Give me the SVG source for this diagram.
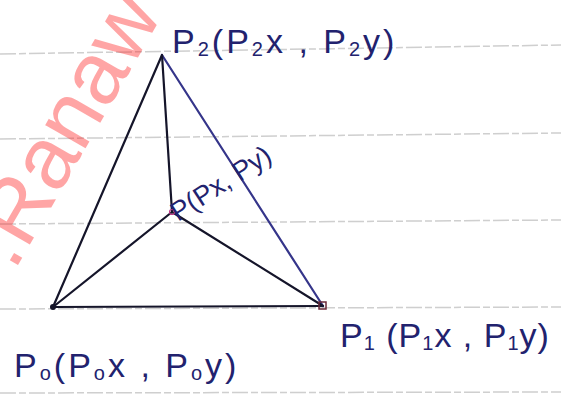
<svg xmlns="http://www.w3.org/2000/svg" width="561" height="395" viewBox="0 0 561 395">
<style>
.rule{stroke:#a0a0a0;stroke-width:1.5;stroke-dasharray:16 3 7 3;opacity:0.5}
.edge{stroke:#15152a;stroke-width:2.2;fill:none;stroke-linecap:round}
.blue{stroke:#35358a}
.lbl{font-family:"Liberation Sans",Arial,sans-serif;font-size:34px;fill:#22226e;letter-spacing:1px}
.sub{font-size:20px}
.wm{font-family:"Liberation Sans",Arial,sans-serif;font-size:88px;fill:#ff2020;opacity:0.4}
</style>
<rect width="561" height="395" fill="#ffffff"/>
<g id="ruled">
<line class="rule" x1="0" y1="54" x2="561" y2="45"/>
<line class="rule" x1="0" y1="139" x2="561" y2="133"/>
<line class="rule" x1="0" y1="224" x2="561" y2="220"/>
<line class="rule" x1="0" y1="309" x2="561" y2="307"/>
<line class="rule" x1="0" y1="393" x2="561" y2="392"/>
</g>
<text class="wm" transform="translate(14,272) rotate(-60)">.Ranaw</text>
<g id="connectors">
<line class="edge" x1="53" y1="307" x2="162" y2="55"/>
<line class="edge" x1="53" y1="307" x2="323" y2="306"/>
<line class="edge blue" x1="162" y1="55" x2="323" y2="306"/>
<line class="edge" x1="162" y1="55" x2="172" y2="212"/>
<line class="edge" x1="53" y1="307" x2="172" y2="212"/>
<line class="edge" x1="172" y1="212" x2="323" y2="306"/>
</g>
<g id="P0">
<circle cx="53" cy="307" r="3" fill="#15152a"/>
<text class="lbl" x="14" y="377" style="letter-spacing:3px">P<tspan class="sub" dy="3">o</tspan><tspan dy="-3">(P</tspan><tspan class="sub" dy="3">o</tspan><tspan dy="-3">x , P</tspan><tspan class="sub" dy="3">o</tspan><tspan dy="-3">y)</tspan></text>
</g>
<g id="P1">
<rect x="319" y="302" width="7" height="7" fill="none" stroke="#6a2a3a" stroke-width="1.5"/>
<text class="lbl" x="340" y="347">P<tspan class="sub" dy="3">1</tspan><tspan dy="-3"> (P</tspan><tspan class="sub" dy="3">1</tspan><tspan dy="-3">x , P</tspan><tspan class="sub" dy="3">1</tspan><tspan dy="-3">y)</tspan></text>
</g>
<g id="P2">
<text class="lbl" x="172" y="53" style="letter-spacing:3px">P<tspan class="sub" dy="3">2</tspan><tspan dy="-3">(P</tspan><tspan class="sub" dy="3">2</tspan><tspan dy="-3">x , P</tspan><tspan class="sub" dy="3">2</tspan><tspan dy="-3">y)</tspan></text>
</g>
<g id="P">
<circle cx="172" cy="212" r="2.5" fill="none" stroke="#c03a8a" stroke-width="1.2"/>
<text class="lbl" style="font-size:27px;letter-spacing:0" transform="translate(178,222) rotate(-33)">P(Px, Py)</text>
</g>
</svg>
